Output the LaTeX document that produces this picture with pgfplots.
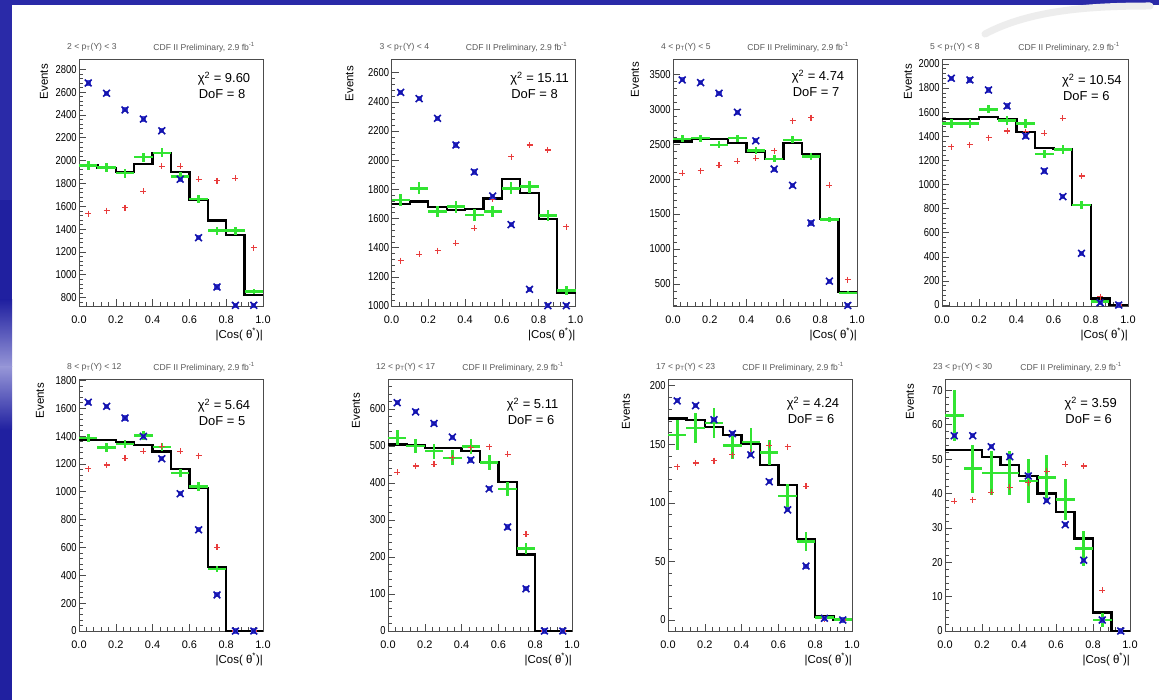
\documentclass[border=0pt]{standalone}
\usepackage{fontspec}
\setmainfont{Liberation Sans}
\newfontfamily\narrowfont{Liberation Sans}[FakeStretch=0.82]
\usepackage{pgfplots}
\pgfplotsset{compat=1.18}
\usepackage{pgfplotstable}

\definecolor{bcol}{RGB}{20,20,170}
\definecolor{bfill}{RGB}{70,70,225}
\definecolor{rcol}{RGB}{232,60,60}
\definecolor{gcol}{RGB}{50,228,50}
\definecolor{slideblue}{RGB}{42,42,168}
\definecolor{slidedark}{RGB}{32,32,160}
\definecolor{slidelight}{RGB}{150,150,215}

% blue marker: filled square with a cross
\pgfdeclareplotmark{sqx}{%
  \pgfpathrectangle{\pgfpoint{-0.75\pgfplotmarksize}{-0.75\pgfplotmarksize}}{\pgfpoint{1.5\pgfplotmarksize}{1.5\pgfplotmarksize}}%
  \pgfsetfillcolor{bfill}\pgfusepathqfill
  \pgfpathmoveto{\pgfpoint{-\pgfplotmarksize}{-\pgfplotmarksize}}%
  \pgfpathlineto{\pgfpoint{\pgfplotmarksize}{\pgfplotmarksize}}%
  \pgfpathmoveto{\pgfpoint{-\pgfplotmarksize}{\pgfplotmarksize}}%
  \pgfpathlineto{\pgfpoint{\pgfplotmarksize}{-\pgfplotmarksize}}%
  \pgfusepathqstroke}

% columns: bin centre, blue (x), red (+), green data, green error
\pgfplotstableread{
x b r g e
0.05 2680 1535 1955 40
0.15 2590 1561 1941 40
0.25 2444 1585 1890 40
0.35 2364 1733 2030 40
0.45 2261 1950 2068 40
0.55 1837 1950 1861 40
0.65 1324 1837 1662 35
0.75 892 1822 1387 35
0.85 732 1846 1387 35
0.95 732 1238 853 25
}\tabA
\pgfplotstableread{
x b r g e
0.05 2465 1311 1727 40
0.15 2422 1354 1807 40
0.25 2287 1379 1647 40
0.35 2104 1430 1681 40
0.45 1919 1533 1624 40
0.55 1754 1731 1647 40
0.65 1558 2024 1807 40
0.75 1114 2104 1818 40
0.85 1002 2070 1620 40
0.95 1002 1544 1105 30
}\tabB
\pgfplotstableread{
x b r g e
0.05 3419 2086 2576 50
0.15 3381 2119 2586 50
0.25 3229 2195 2490 50
0.35 2957 2252 2586 50
0.45 2548 2300 2410 50
0.55 2143 2405 2290 50
0.65 1910 2838 2562 50
0.75 1371 2881 2324 50
0.85 538 1910 1420 40
0.95 190 562 371 20
}\tabC
\pgfplotstableread{
x b r g e
0.05 1881 1314 1507 35
0.15 1867 1328 1507 35
0.25 1784 1389 1624 35
0.35 1651 1444 1530 35
0.45 1402 1438 1507 35
0.55 1112 1425 1253 35
0.65 899 1549 1292 35
0.75 429 1070 830 30
0.85 19 69 28 10
0.95 0 0 nan nan
}\tabD
\pgfplotstableread{
x b r g e
0.05 1643 1165 1386 30
0.15 1614 1192 1319 30
0.25 1530 1240 1343 30
0.35 1398 1290 1403 30
0.45 1237 1326 1321 30
0.55 986 1290 1134 30
0.65 727 1259 1038 30
0.75 259 600 444 20
0.85 0 0 nan nan
0.95 0 0 nan nan
}\tabE
\pgfplotstableread{
x b r g e
0.05 617 429 522 20
0.15 592 446 500 20
0.25 561 450 486 20
0.35 524 468 468 20
0.45 462 495 498 20
0.55 384 498 455 20
0.65 281 477 384 18
0.75 114 261 223 15
0.85 0 0 nan nan
0.95 0 0 nan nan
}\tabF
\pgfplotstableread{
x b r g e
0.05 187 131 158 13
0.15 183 134 164 13
0.25 171 136 168 13
0.35 159 141 149 12
0.45 141 143 152 12
0.55 118 149 143 11
0.65 94 148 106 10
0.75 46 114 67 8
0.85 1.5 1 2 1.5
0.95 0 0 0.5 0.7
}\tabG
\pgfplotstableread{
x b r g e
0.05 56.8 37.7 62.7 7.5
0.15 56.8 38.2 47.2 7
0.25 53.6 40.4 46 6.5
0.35 50.7 41.8 46 6.5
0.45 45.1 43.1 43.6 6.5
0.55 37.9 46.5 44.6 6.5
0.65 30.9 48.5 38.2 6
0.75 20.6 48.0 24 5
0.85 3.2 11.8 3.2 2
0.95 0 nan nan nan
}\tabH

\newcommand\tickfont{\fontsize{11}{12}\selectfont}
\newcommand\ytickfont{\narrowfont\fontsize{11.5}{12}\selectfont}
\newcommand\chifont{\fontsize{13}{14}\selectfont}
\newcommand\titfont{\fontsize{8.6}{9}\selectfont}

\pgfplotsset{
  cdf/.style={
    scale only axis, width=184bp, clip=false,
    xmin=0, xmax=1, xtick={0,0.2,0.4,0.6,0.8,1},
    minor x tick num=4, minor y tick num=4,
    tick align=inside, tick pos=left,
    major tick length=7bp, minor tick length=3.5bp,
    axis line style={black!70, line width=0.8bp},
    every tick/.append style={black!70, line width=0.6bp},
    /pgf/number format/assume math mode=true,
    xticklabel={\pgfmathprintnumber[fixed,fixed zerofill,precision=1]{\tick}},
    yticklabel={\pgfmathprintnumber[fixed,1000 sep={}]{\tick}},
    xticklabel style={font=\tickfont, yshift=-6bp},
    yticklabel style={font=\ytickfont, xshift=1bp},
    xlabel={|Cos( θ\textsuperscript{*})|},
    xlabel style={at={(rel axis cs:1,0)}, anchor=north east, yshift=-22bp,
      font=\fontsize{11.5}{12}\selectfont, inner sep=0pt},
  },
  hist/.style={const plot, line width=2.3bp, black},
  gdat/.style={only marks, mark=*, mark size=0.3bp, mark options={draw=gcol, fill=gcol},
      error bars/.cd, x dir=both, x fixed=0.05,
      y dir=both, y explicit, error mark=none,
      error bar style={gcol, line width=2.6bp}},
  rdat/.style={only marks, mark=+, mark size=3bp, mark options={draw=rcol, line width=1.1bp}},
  bdat/.style={only marks, mark=sqx, bcol, mark size=3.4bp, line width=1.6bp},
}

% panel annotations: #1 left title, #2 chi2, #3 DoF, #4 Events xshift, #5 Events yshift, #6 chi yshift
\newcommand\panelnotes[6]{%
  \node[anchor=west, font=\titfont, text=black!65, inner sep=0pt] at ([xshift=-12bp,yshift=12bp]rel axis cs:0,1) {#1};
  \node[anchor=east, font=\titfont, text=black!65, inner sep=0pt] at ([xshift=-8bp,yshift=12bp]rel axis cs:1,1) {CDF II Preliminary, 2.9 fb\textsuperscript{-1}};
  \node[anchor=west, font=\chifont, inner sep=0pt] at ([yshift=-#6bp]rel axis cs:0.645,1) {χ\textsuperscript{2} = #2};
  \node[anchor=west, font=\chifont, inner sep=0pt] at ([yshift=-#6bp-15bp]rel axis cs:0.65,1) {DoF = #3};
  \node[rotate=90, anchor=east, font=\fontsize{11.5}{12}\selectfont, inner sep=0pt] at ([xshift=-#4bp,yshift=-#5bp]rel axis cs:0,1) {Events};
}

\begin{document}
\begin{tikzpicture}
% slide background
\fill[white] (0,0) rectangle (1159bp,700bp);
\fill[slidedark] (0,0) rectangle (12bp,700bp);
\fill[slideblue] (0,500bp) rectangle (12bp,700bp);
\shade[top color=slidedark, bottom color=slidelight] (0,400bp) rectangle (12bp,333bp);
\shade[top color=slidelight, bottom color=slidedark] (0,333bp) rectangle (12bp,270bp);
\fill[slideblue] (0,694.5bp) rectangle (1159bp,700bp);
\draw[black!7, line width=7bp, line cap=round] (985bp,666bp) .. controls (1030bp,690bp) and (1090bp,694bp) .. (1150bp,694bp);

%---------------- top row ----------------
\begin{axis}[cdf, at={(79bp,394bp)}, anchor=south west, height=247bp,
  ymin=726, ymax=2890, ytick distance=200]
\addplot[hist] coordinates {(0,1958) (0.1,1935) (0.2,1900) (0.3,1973) (0.4,2068) (0.5,1900) (0.6,1653) (0.7,1476) (0.8,1348) (0.9,824) (1.0,824)};
\addplot[gdat] table[x=x,y=g,y error=e] {\tabA};
\addplot[rdat] table[x=x,y=r] {\tabA};
\addplot[bdat] table[x=x,y=b] {\tabA};
\panelnotes{2 < p\textsubscript{T}(Υ) < 3}{9.60}{8}{35}{5}{20}
\end{axis}

\begin{axis}[cdf, at={(391.5bp,394bp)}, anchor=south west, height=247bp,
  ymin=1000, ymax=2694, ytick distance=200]
\addplot[hist] coordinates {(0,1700) (0.1,1716) (0.2,1677) (0.3,1658) (0.4,1665) (0.5,1738) (0.6,1869) (0.7,1773) (0.8,1597) (0.9,1091) (1.0,1091)};
\addplot[gdat] table[x=x,y=g,y error=e] {\tabB};
\addplot[rdat] table[x=x,y=r] {\tabB};
\addplot[bdat] table[x=x,y=b] {\tabB};
\panelnotes{3 < p\textsubscript{T}(Υ) < 4}{15.11}{8}{42}{7}{20}
\end{axis}

\begin{axis}[cdf, at={(673bp,394bp)}, anchor=south west, height=247bp,
  ymin=183, ymax=3719, ytick distance=500]
\addplot[hist] coordinates {(0,2538) (0.1,2571) (0.2,2571) (0.3,2514) (0.4,2395) (0.5,2286) (0.6,2514) (0.7,2357) (0.8,1429) (0.9,381) (1.0,381)};
\addplot[gdat] table[x=x,y=g,y error=e] {\tabC};
\addplot[rdat] table[x=x,y=r] {\tabC};
\addplot[bdat] table[x=x,y=b] {\tabC};
\panelnotes{4 < p\textsubscript{T}(Υ) < 5}{4.74}{7}{38}{3}{18}
\end{axis}

\begin{axis}[cdf, at={(942bp,394bp)}, anchor=south west, height=247bp, width=186bp,
  ymin=-8, ymax=2041, ytick distance=200]
\addplot[hist] coordinates {(0,1543) (0.1,1543) (0.2,1557) (0.3,1541) (0.4,1438) (0.5,1300) (0.6,1294) (0.7,830) (0.8,53) (0.9,3) (1.0,3)};
\addplot[gdat] table[x=x,y=g,y error=e] {\tabD};
\addplot[rdat] table[x=x,y=r] {\tabD};
\addplot[bdat] table[x=x,y=b] {\tabD};
\panelnotes{5 < p\textsubscript{T}(Υ) < 8}{10.54}{6}{34}{5}{22}
\end{axis}

%---------------- bottom row ----------------
\begin{axis}[cdf, at={(79bp,69bp)}, anchor=south west, height=252bp,
  ymin=0, ymax=1810, ytick distance=200]
\addplot[hist] coordinates {(0,1374) (0.1,1374) (0.2,1357) (0.3,1338) (0.4,1290) (0.5,1163) (0.6,1026) (0.7,458) (0.8,0) (0.9,0) (1.0,0)};
\addplot[gdat] table[x=x,y=g,y error=e] {\tabE};
\addplot[rdat] table[x=x,y=r] {\tabE};
\addplot[bdat] table[x=x,y=b] {\tabE};
\panelnotes{8 < p\textsubscript{T}(Υ) < 12}{5.64}{5}{39}{4}{27}
\end{axis}

\begin{axis}[cdf, at={(388bp,69bp)}, anchor=south west, height=252bp,
  ymin=0, ymax=681, ytick distance=100]
\addplot[hist] coordinates {(0,504) (0.1,502) (0.2,495) (0.3,495) (0.4,486) (0.5,456) (0.6,402) (0.7,207) (0.8,0) (0.9,0) (1.0,0)};
\addplot[gdat] table[x=x,y=g,y error=e] {\tabF};
\addplot[rdat] table[x=x,y=r] {\tabF};
\addplot[bdat] table[x=x,y=b] {\tabF};
\panelnotes{12 < p\textsubscript{T}(Υ) < 17}{5.11}{6}{32}{14}{26}
\end{axis}

\begin{axis}[cdf, at={(668bp,69bp)}, anchor=south west, height=252bp,
  ymin=-9.4, ymax=205.7, ytick distance=50]
\addplot[hist] coordinates {(0,172) (0.1,171) (0.2,165) (0.3,158) (0.4,150) (0.5,132) (0.6,115) (0.7,69) (0.8,3) (0.9,0.5) (1.0,0.5)};
\addplot[gdat] table[x=x,y=g,y error=e] {\tabG};
\addplot[rdat] table[x=x,y=r] {\tabG};
\addplot[bdat] table[x=x,y=b] {\tabG};
\panelnotes{17 < p\textsubscript{T}(Υ) < 23}{4.24}{6}{42}{15}{25}
\end{axis}

\begin{axis}[cdf, at={(945bp,69bp)}, anchor=south west, height=252bp, width=185bp,
  ymin=0, ymax=73.3, ytick distance=10]
\addplot[hist] coordinates {(0,52.6) (0.1,52.6) (0.2,50.6) (0.3,48.3) (0.4,45.1) (0.5,40) (0.6,34.7) (0.7,26.9) (0.8,5.4) (0.9,0) (1.0,0)};
\addplot[gdat] table[x=x,y=g,y error=e] {\tabH};
\addplot[rdat] table[x=x,y=r] {\tabH};
\addplot[bdat] table[x=x,y=b] {\tabH};
\panelnotes{23 < p\textsubscript{T}(Υ) < 30}{3.59}{6}{35}{5}{25}
\end{axis}

\pgfresetboundingbox
\path[use as bounding box] (0,0) rectangle (1159bp,700bp);
\end{tikzpicture}
\end{document}
